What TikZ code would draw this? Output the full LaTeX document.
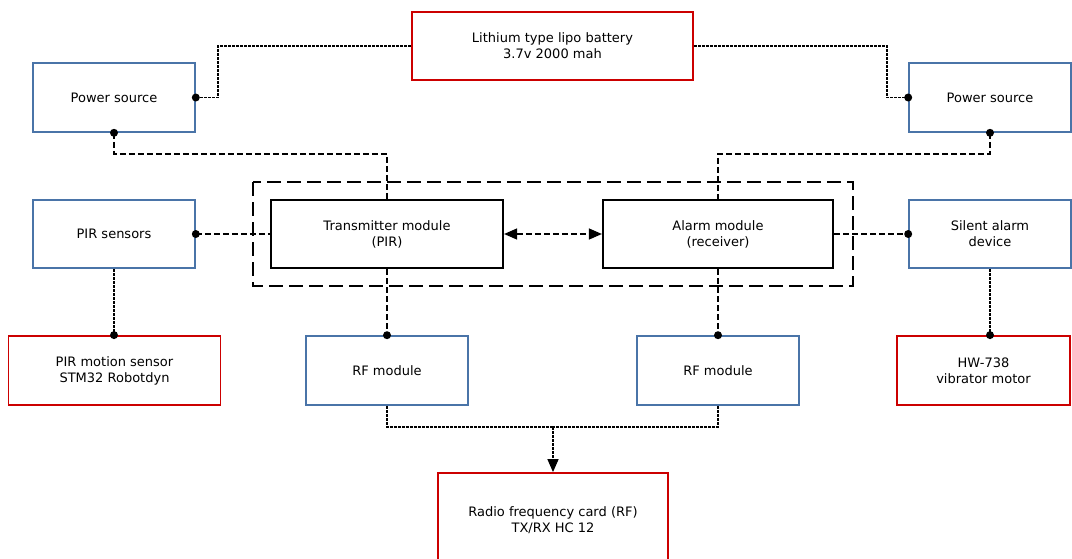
\documentclass[tikz,border=0pt]{standalone}
\usepackage{fontspec}
\setmainfont{DejaVu Sans}
\usetikzlibrary{arrows.meta}
\definecolor{bblue}{RGB}{74,116,168}
\definecolor{rred}{RGB}{204,0,0}
\tikzset{
  box/.style={draw, line width=1.6pt, fill=white, align=center, font=\fontsize{13}{16}\selectfont, inner sep=0pt},
  bluebox/.style={box, draw=bblue},
  redbox/.style={box, draw=rred, line width=1.8pt},
  blackbox/.style={box, draw=black, line width=2.2pt},
  dense/.style={line width=1.4pt, dash pattern=on 3pt off 1pt},
  med/.style={line width=1.4pt, dash pattern=on 6pt off 3pt},
  group/.style={line width=2pt, dash pattern=on 14pt off 6pt},
  tip/.style={-{Triangle[length=13pt,width=11pt]}},
  dtip/.style={{Triangle[length=13pt,width=11pt]}-{Triangle[length=13pt,width=11pt]}},
}
\newcommand{\dotat}[1]{\fill (#1) circle (4pt);}
\begin{document}
\begin{tikzpicture}[x=1pt,y=-1pt]
\useasboundingbox (0,0) rectangle (1072,558);
\clip (0,0) rectangle (1072,558);
% group
\draw[group] (253,182) rectangle (853,286);
% nodes
\node[redbox, minimum width=281pt, minimum height=68pt] (bat) at (552.5,46) {Lithium type lipo battery\\3.7v 2000 mah};
\node[bluebox, minimum width=162pt, minimum height=69pt] (psL) at (114,97.5) {Power source};
\node[bluebox, minimum width=162pt, minimum height=69pt] (psR) at (990,97.5) {Power source};
\node[bluebox, minimum width=162pt, minimum height=68pt] (pir) at (114,234) {PIR sensors};
\node[bluebox, minimum width=162pt, minimum height=68pt] (sil) at (990,234) {Silent alarm\\device};
\node[blackbox, minimum width=232pt, minimum height=68pt] (tx) at (387,234) {Transmitter module\\(PIR)};
\node[blackbox, minimum width=230pt, minimum height=68pt] (al) at (718,234) {Alarm module\\(receiver)};
\node[redbox, minimum width=212pt, minimum height=69pt] (pms) at (114.5,370.5) {PIR motion sensor\\STM32 Robotdyn};
\node[bluebox, minimum width=162pt, minimum height=69pt] (rfL) at (387,370.5) {RF module};
\node[bluebox, minimum width=162pt, minimum height=69pt] (rfR) at (718,370.5) {RF module};
\node[redbox, minimum width=173pt, minimum height=69pt] (hw) at (983.5,370.5) {HW-738\\vibrator motor};
\node[redbox, minimum width=230pt, minimum height=94pt] (rf) at (553,520) {Radio frequency card (RF)\\TX/RX HC 12};
% coordinates
\coordinate (jl) at (218,72);
\coordinate (jr) at (887,72);
\coordinate (al1) at (250,154);
\coordinate (ar1) at (850,154);
\coordinate (j) at (553,427);
% connectors
\draw[dense] (bat.west) -| (jl) |- (psL.east);
\draw[dense] (bat.east) -| (jr) |- (psR.east -| psR.west);
\draw[med] (psL.south) |- (al1) -| (tx.north);
\draw[med] (psR.south) |- (ar1) -| (al.north);
\draw[med] (pir.east) -- (tx.west);
\draw[med] (al.east) -- (sil.west);
\draw[dense] (pir.south) -- (pir.south |- pms.north);
\draw[dense] (sil.south) -- (sil.south |- hw.north);
\draw[med] (tx.south) -- (rfL.north);
\draw[med] (al.south) -- (rfR.north);
\draw[med, dtip] (tx.east) -- (al.west);
\draw[dense] (rfL.south) |- (j);
\draw[dense] (rfR.south) |- (j);
\draw[dense, tip] (j) -- (rf.north);
% dots
\dotat{psL.east}
\dotat{psL.south}
\dotat{psR.west}
\dotat{psR.south}
\dotat{pir.east}
\dotat{sil.west}
\dotat{pir.south |- pms.north}
\dotat{sil.south |- hw.north}
\dotat{rfL.north}
\dotat{rfR.north}
\end{tikzpicture}
\end{document}
